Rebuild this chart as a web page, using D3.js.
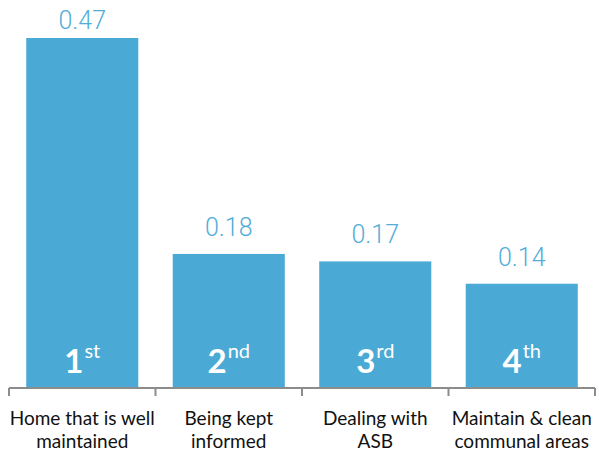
<!DOCTYPE html>
<html>
<head>
<meta charset="utf-8">
<script src="https://cdn.jsdelivr.net/npm/d3@7"></script>
<style>
  html, body { margin: 0; padding: 0; background: #fff; }
  svg { display: block; }
</style>
</head>
<body>
<svg id="chart" width="599" height="457"></svg>
<script>
// Priority ranking data
const categories = [
  ["Home that is well", "maintained"],
  ["Being kept", "informed"],
  ["Dealing with", "ASB"],
  ["Maintain & clean", "communal areas"]
];
const values = [0.47, 0.18, 0.17, 0.14];
const rankNumbers = ["1", "2", "3", "4"];
const rankSuffixes = ["st", "nd", "rd", "th"];

const svg = d3.select("#chart");
const margin = { left: 9, right: 4, top: 38, bottom: 69 };
const W = 599, H = 457;
const baseY = H - margin.bottom; // 388

const x = d3.scaleBand()
  .domain(d3.range(categories.length))
  .range([margin.left, W - margin.right])
  .paddingInner(0.235)
  .paddingOuter(0.1175);

const y = d3.scaleLinear()
  .domain([0, 0.47])
  .range([baseY, margin.top]);

const barColor = "#4BAAD5";
const labelColor = "#52ADD9";

// bars
svg.append("g").selectAll("rect")
  .data(values)
  .join("rect")
  .attr("x", (d, i) => x(i))
  .attr("y", d => y(d))
  .attr("width", x.bandwidth())
  .attr("height", d => baseY - y(d))
  .attr("fill", barColor);

// value labels above bars (kept inside the top of the canvas)
svg.append("g").selectAll("text")
  .data(values)
  .join("text")
  .attr("x", (d, i) => x(i) + x.bandwidth() / 2)
  .attr("y", d => Math.max(y(d) - 18, 29))
  .attr("text-anchor", "middle")
  .attr("font-family", "Roboto, 'Open Sans', sans-serif")
  .attr("font-weight", 300)
  .attr("font-size", 25)
  .attr("fill", labelColor)
  .text(d => d.toFixed(2));

// rank labels inside the bars
const ranks = svg.append("g").selectAll("text")
  .data(rankNumbers)
  .join("text")
  .attr("x", (d, i) => x(i) + x.bandwidth() / 2)
  .attr("y", baseY - 15)
  .attr("text-anchor", "middle")
  .attr("font-family", "Lato, 'Open Sans', sans-serif")
  .attr("fill", "#fff");
ranks.append("tspan")
  .attr("font-size", 33)
  .attr("font-weight", 700)
  .text(d => d);
ranks.append("tspan")
  .attr("font-size", 20)
  .attr("font-weight", 400)
  .attr("dx", 1)
  .attr("dy", -15)
  .text((d, i) => rankSuffixes[i]);

// category axis with boundary ticks
const axisG = svg.append("g").attr("stroke", "#8C8C8C").attr("stroke-width", 2);
const x0 = margin.left, x1 = W - margin.right;
axisG.append("line")
  .attr("x1", x0).attr("x2", x1)
  .attr("y1", baseY).attr("y2", baseY);
const boundaries = d3.range(categories.length + 1).map(i => x0 + (x1 - x0) * i / categories.length);
axisG.selectAll("line.tick")
  .data(boundaries)
  .join("line")
  .attr("class", "tick")
  .attr("x1", d => d).attr("x2", d => d)
  .attr("y1", baseY).attr("y2", baseY + 8);

// category labels
const cat = svg.append("g").selectAll("text")
  .data(categories)
  .join("text")
  .attr("text-anchor", "middle")
  .attr("font-family", "Lato, 'Open Sans', sans-serif")
  .attr("font-size", 19)
  .attr("fill", "#111");
cat.each(function(lines, i) {
  const t = d3.select(this);
  lines.forEach((ln, j) => {
    t.append("tspan")
      .attr("x", x(i) + x.bandwidth() / 2)
      .attr("y", 425 + j * 23)
      .text(ln);
  });
});
</script>
</body>
</html>
